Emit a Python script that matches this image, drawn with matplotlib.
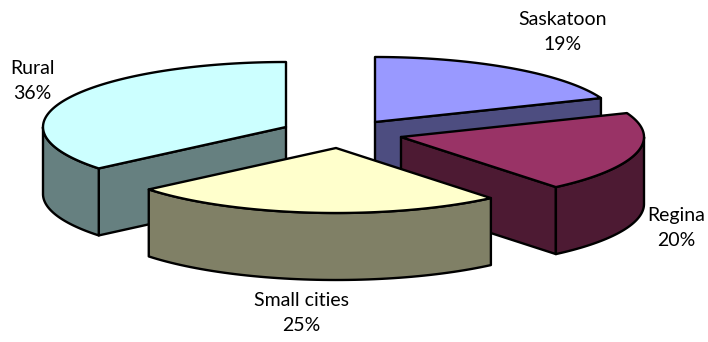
import numpy as np
import matplotlib
matplotlib.use("Agg")
import matplotlib.pyplot as plt
from matplotlib.patches import Polygon

plt.rcParams["font.family"] = ["Lato", "DejaVu Sans"]

# data, clockwise from 12 o'clock
labels = ["Saskatoon", "Regina", "Small cities", "Rural"]
values = [19, 20, 25, 36]

# look of each slice
top_colors = ["#9999FF", "#993366", "#FFFFCC", "#CCFFFF"]
side_colors = ["#4D4D80", "#4D1A33", "#808066", "#668080"]
centers = [(375, 122), (401, 137), (336, 148), (286, 127)]
label_pos = [(563, 32), (676, 228), (301, 313), (32, 81)]
draw_order = [0, 3, 1, 2]

RX, RY, DEPTH = 243, 65, 67

fig = plt.figure(figsize=(7.08, 3.42), dpi=100)
ax = fig.add_axes([0, 0, 1, 1])
ax.set_xlim(0, 708)
ax.set_ylim(342, 0)
ax.axis("off")


def rim(c, t):
    t = np.radians(t)
    return np.column_stack([c[0] + RX * np.sin(t), c[1] - RY * np.cos(t)])


def face(pts, color, z):
    ax.add_patch(Polygon(pts, closed=True, facecolor=color, edgecolor="black",
                         linewidth=1.7, joinstyle="round", zorder=z))


ends = np.cumsum(values) / sum(values) * 360
starts = np.r_[0, ends[:-1]]

for z, i in enumerate(draw_order):
    c, t0, t1 = centers[i], starts[i], ends[i]
    down = np.array([0, DEPTH])
    base = z * 10
    # radial walls that face the viewer
    if np.sin(np.radians(t0)) < -1e-6:
        p = rim(c, [t0])
        face([c, p[0], p[0] + down, np.array(c) + down], side_colors[i], base)
    if np.sin(np.radians(t1)) > 1e-6:
        p = rim(c, [t1])
        face([c, p[0], p[0] + down, np.array(c) + down], side_colors[i], base)
    # outer wall, only the front half of the ellipse
    a, b = max(t0, 90), min(t1, 270)
    if b > a:
        arc = rim(c, np.linspace(a, b, 60))
        face(np.vstack([arc, (arc + down)[::-1]]), side_colors[i], base + 1)
    # top
    arc = rim(c, np.linspace(t0, t1, 120))
    face(np.vstack([[c], arc]), top_colors[i], base + 2)

for i, (x, y) in enumerate(label_pos):
    ax.text(x, y, f"{labels[i]}\n{values[i]}%", ha="center", va="center",
            fontsize=14, linespacing=1.55, color="black", zorder=100)

fig.savefig("out.png", dpi=100)
